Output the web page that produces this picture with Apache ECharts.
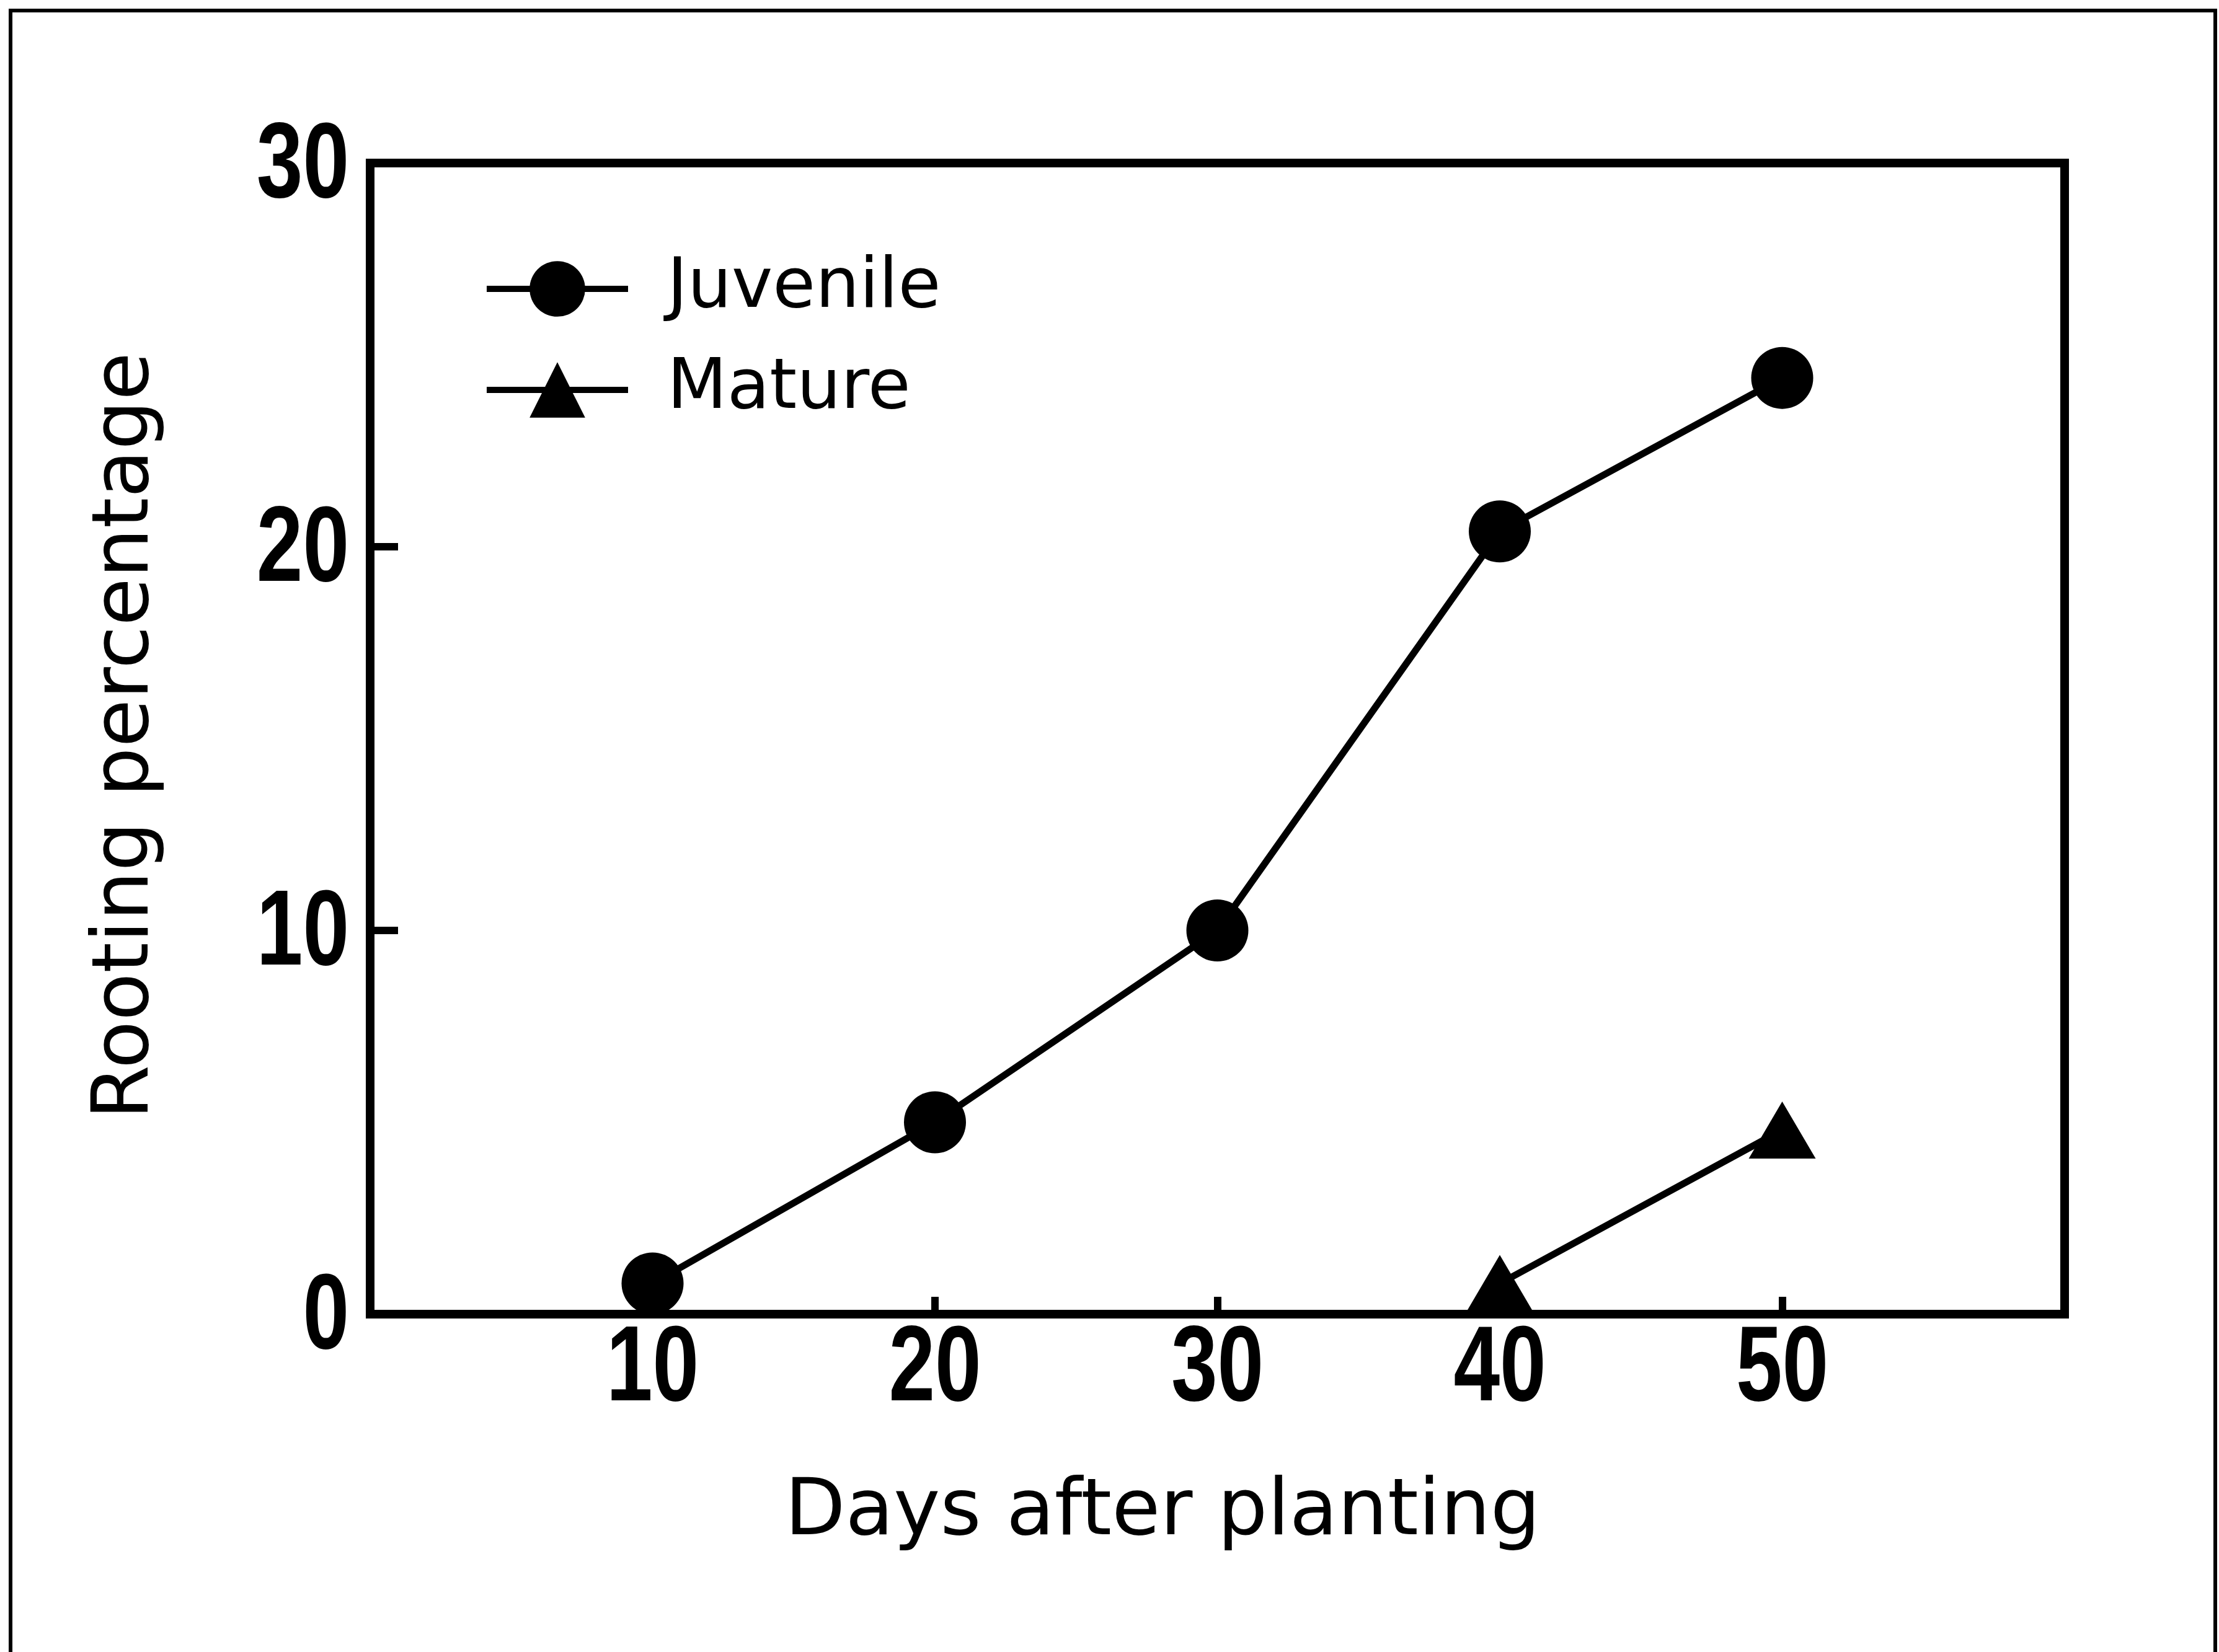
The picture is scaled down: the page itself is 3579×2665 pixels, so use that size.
<!DOCTYPE html>
<html>
<head>
<meta charset="utf-8">
<title>Rooting percentage</title>
<script src="https://cdn.jsdelivr.net/npm/echarts@6/dist/echarts.min.js"></script>
<style>
  html, body { margin: 0; padding: 0; background: #fff; }
  #chart { width: 3579px; height: 2665px; }
</style>
</head>
<body>
<div id="chart"></div>
<script>
// Days after planting at which cuttings were scored
const days = [10, 20, 30, 40, 50];
// Rooting percentage of juvenile cuttings
const juvenile = [0.8, 5, 10, 20.4, 24.4];
// Mature cuttings only rooted from day 40 on
const matureDays = [40, 50];
const mature = [0.8, 4.8];

// Tick labels printed along each axis
const xTickLabels = [10, 20, 30, 40, 50];
const yTickLabels = [0, 10, 20, 30];

const seriesNames = ['Juvenile', 'Mature'];
const xTitle = 'Days after planting';
const yTitle = 'Rooting percentage';

// Condensed bold numerals: a bold sans squeezed horizontally
const tickFont = "bold 172px 'Liberation Sans', Arial, sans-serif";
const tickSqueeze = 0.78;

const chart = echarts.init(document.getElementById('chart'), null, { renderer: 'canvas' });

function tickText(text, x, y, align) {
  return {
    type: 'text',
    x: x, y: y,
    scaleX: tickSqueeze,
    style: { text: text, font: tickFont, fill: '#000', align: align, verticalAlign: 'middle' }
  };
}

const option = {
  backgroundColor: '#fff',
  animation: false,
  grid: {
    left: 597, right: 249, top: 263, bottom: 545,
    show: true,
    borderColor: '#000',
    borderWidth: 14,
    backgroundColor: 'transparent'
  },
  xAxis: {
    type: 'value',
    min: 0, max: 60, interval: 10,
    axisLine: { show: false },
    axisTick: { show: true, inside: true, length: 28, lineStyle: { color: '#000', width: 12 } },
    splitLine: { show: false },
    axisLabel: { show: false }
  },
  yAxis: {
    type: 'value',
    min: 0, max: 30, interval: 10,
    axisLine: { show: false },
    axisTick: { show: true, inside: true, length: 45, lineStyle: { color: '#000', width: 12 } },
    splitLine: { show: false },
    axisLabel: { show: false }
  },
  legend: {
    orient: 'vertical',
    left: 775, top: 405,
    itemWidth: 228, itemHeight: 112, itemGap: 51,
    selectedMode: false,
    data: seriesNames,
    lineStyle: { color: '#000', width: 10 },
    textStyle: { color: '#000', fontFamily: "'DejaVu Sans', sans-serif", fontSize: 112, padding: [0, 0, 0, 58] }
  },
  series: [
    {
      name: seriesNames[0],
      type: 'line',
      data: days.map((d, i) => [d, juvenile[i]]),
      symbol: 'circle', symbolSize: 100,
      clip: false,
      lineStyle: { color: '#000', width: 11 },
      itemStyle: { color: '#000' },
      z: 3
    },
    {
      name: seriesNames[1],
      type: 'line',
      data: matureDays.map((d, i) => [d, mature[i]]),
      symbol: 'triangle', symbolSize: [108, 92],
      clip: false,
      lineStyle: { color: '#000', width: 11 },
      itemStyle: { color: '#000' },
      z: 3
    },
    {
      // x-axis numerals, placed through the axis scale
      name: 'xTicks',
      type: 'custom',
      clip: false,
      silent: true,
      data: xTickLabels.map(v => [v, 0]),
      renderItem: function (params, api) {
        const v = api.value(0);
        const p = api.coord([v, 0]);
        return tickText(String(v), p[0], p[1] + 92, 'center');
      }
    },
    {
      // y-axis numerals, placed through the axis scale
      name: 'yTicks',
      type: 'custom',
      clip: false,
      silent: true,
      data: yTickLabels.map(v => [0, v]),
      renderItem: function (params, api) {
        const v = api.value(1);
        const p = api.coord([0, v]);
        return tickText(String(v), p[0] - 34, p[1] + 8, 'right');
      }
    }
  ],
  graphic: [
    {
      type: 'rect',
      shape: { x: 17, y: 17, width: 3556, height: 2720 },
      style: { fill: 'none', stroke: '#000', lineWidth: 6 },
      silent: true
    },
    {
      type: 'text',
      x: 205, y: 1187, rotation: Math.PI / 2,
      style: { text: yTitle, fill: '#000', font: "126px 'DejaVu Sans', sans-serif", align: 'center', verticalAlign: 'middle' },
      silent: true
    },
    {
      type: 'text',
      x: 1875, y: 2442,
      style: { text: xTitle, fill: '#000', font: "127px 'DejaVu Sans', sans-serif", align: 'center', verticalAlign: 'middle' },
      silent: true
    }
  ]
};

chart.setOption(option);
</script>
</body>
</html>
